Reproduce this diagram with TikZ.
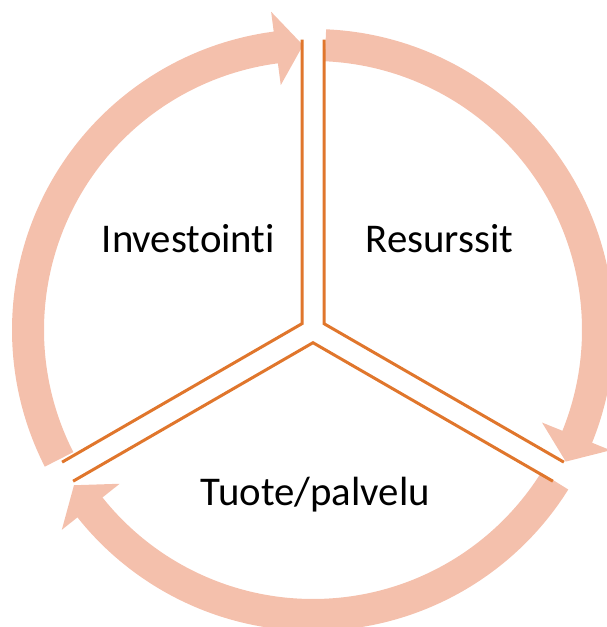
\documentclass[tikz,border=0pt]{standalone}
\usepackage{fontspec}
\setmainfont{Carlito}[Ligatures=NoCommon]
\usetikzlibrary{calc}
\definecolor{ringfill}{RGB}{244,192,172}
\definecolor{divider}{RGB}{224,118,44}
\begin{document}
\begin{tikzpicture}[x=1pt,y=1pt,
  cyclearrow/.style={fill=ringfill, draw=none},
  divline/.style={draw=divider, line width=3pt, line join=miter},
  seglabel/.style={font=\fontsize{40.8}{48}\selectfont, text=black, inner sep=0pt, anchor=base}]
\useasboundingbox (0,0) rectangle (606,-627);
\coordinate (C) at (313,-330);

% three curved arrows forming the cycle (clockwise)
\foreach \s in {207,87.5,-32}{
  \pgfmathsetmacro\b{\s-109.5}
  \pgfmathsetmacro\t{\s-115}
  \fill[cyclearrow] ($(C)+(\s:301pt)$) arc[start angle=\s, end angle=\b, radius=301pt]
    -- ($(C)+(\b:321pt)$) -- ($(C)+(\t:285pt)$) -- ($(C)+(\b:247pt)$)
    -- ($(C)+(\b:269pt)$) arc[start angle=\b, end angle=\s, radius=269pt] -- cycle;
}

% inner corners of the three segments
\coordinate (J1) at ($(C)+(150:12.7pt)$);
\coordinate (J2) at ($(C)+(30:12.7pt)$);
\coordinate (J3) at ($(C)+(270:12.7pt)$);

% segment boundaries
\draw[divline] ($(J1)+(90:284pt)$) -- (J1) -- ($(J1)+(210:277pt)$);
\draw[divline] ($(J2)+(90:284pt)$) -- (J2) -- ($(J2)+(-30:277pt)$);
\draw[divline] ($(J3)+(-30:277pt)$) -- (J3) -- ($(J3)+(210:277pt)$);

% segment labels
\node[seglabel] (inv) at (188.4,-252.7) {Investointi};
\node[seglabel] (res) at (439.5,-252.7) {Resurssit};
\node[seglabel] (tuo) at (315.3,-505) {Tuote/palvelu};
\end{tikzpicture}
\end{document}
